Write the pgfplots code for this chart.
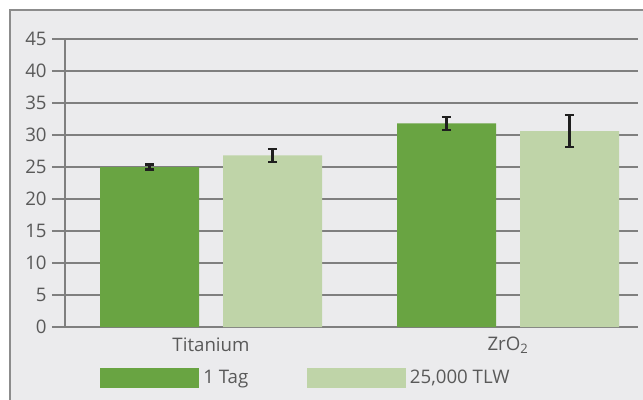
\documentclass[border=0pt]{standalone}
\usepackage{pgfplots}
\pgfplotsset{compat=1.18}
\usepackage{fontspec}
\setmainfont{Open Sans}
\definecolor{bg}{HTML}{EBEBED}
\definecolor{frame}{HTML}{8C8C8C}
\definecolor{gridc}{HTML}{7F7F7F}
\definecolor{txt}{HTML}{595959}
\definecolor{dgreen}{HTML}{69A442}
\definecolor{lgreen}{HTML}{BFD4A8}
\begin{document}
\begin{tikzpicture}
% 1px = 0.75pt; origin at the axis' lower left corner
\path[use as bounding box, clip] (-48.75pt,-54.75pt) rectangle (433.5pt,245.25pt);
\fill[white] (-48.75pt,-54.75pt) rectangle (433.5pt,245.25pt);
\filldraw[fill=bg, draw=frame, line width=1.2pt] (-41.25pt,-70pt) rectangle (460pt,237.75pt);
\begin{axis}[
  at={(0pt,0pt)}, anchor=south west,
  scale only axis,
  width=429.75pt, height=216pt,
  ybar=18pt, bar width=74.25pt,
  xmin=-0.4916, xmax=1.4377,
  ymin=0, ymax=45,
  ytick={0,5,...,45},
  xtick={0,1},
  xticklabels={Titanium, ZrO\textsubscript{2}},
  axis lines*=left,
  axis line style={gridc, line width=1pt, -},
  ymajorgrids,
  grid style={gridc, line width=1pt},
  tick align=outside,
  major tick length=9.75pt,
  ytick style={gridc, line width=1pt},
  xtick style={draw=none},
  tick label style={font=\fontsize{14}{16}\selectfont, text=txt},
  yticklabel style={xshift=-0.5pt},
  xticklabel style={yshift=5.5pt},
  /pgf/number format/assume math mode=true,
  legend columns=2,
  legend style={draw=none, fill=none, at={(0.0611,-0.177)}, anchor=west,
    inner sep=0pt, font=\fontsize{14}{16}\selectfont, text=txt,
    nodes={inner sep=0pt},
    /tikz/every odd column/.append style={column sep=3pt},
    /tikz/every even column/.append style={column sep=44pt}},
  legend image code/.code={\fill[#1] (0pt,-7.5pt) rectangle (74.25pt,7.5pt);},
  error bars/y dir=both,
  error bars/y explicit,
  error bars/error bar style={line width=1.6pt, black!88},
  error bars/error mark options={rotate=90, mark size=3.4pt, line width=1.6pt, black!88},
]
\addplot[fill=dgreen, draw=none] coordinates {(0,25.0) +- (0,0.4) (1,31.8) +- (0,1.0)};
\addplot[fill=lgreen, draw=none] coordinates {(0,26.8) +- (0,1.0) (1,30.6) +- (0,2.5)};
\legend{1 Tag, {25,000 TLW}}
\end{axis}
\end{tikzpicture}
\end{document}
